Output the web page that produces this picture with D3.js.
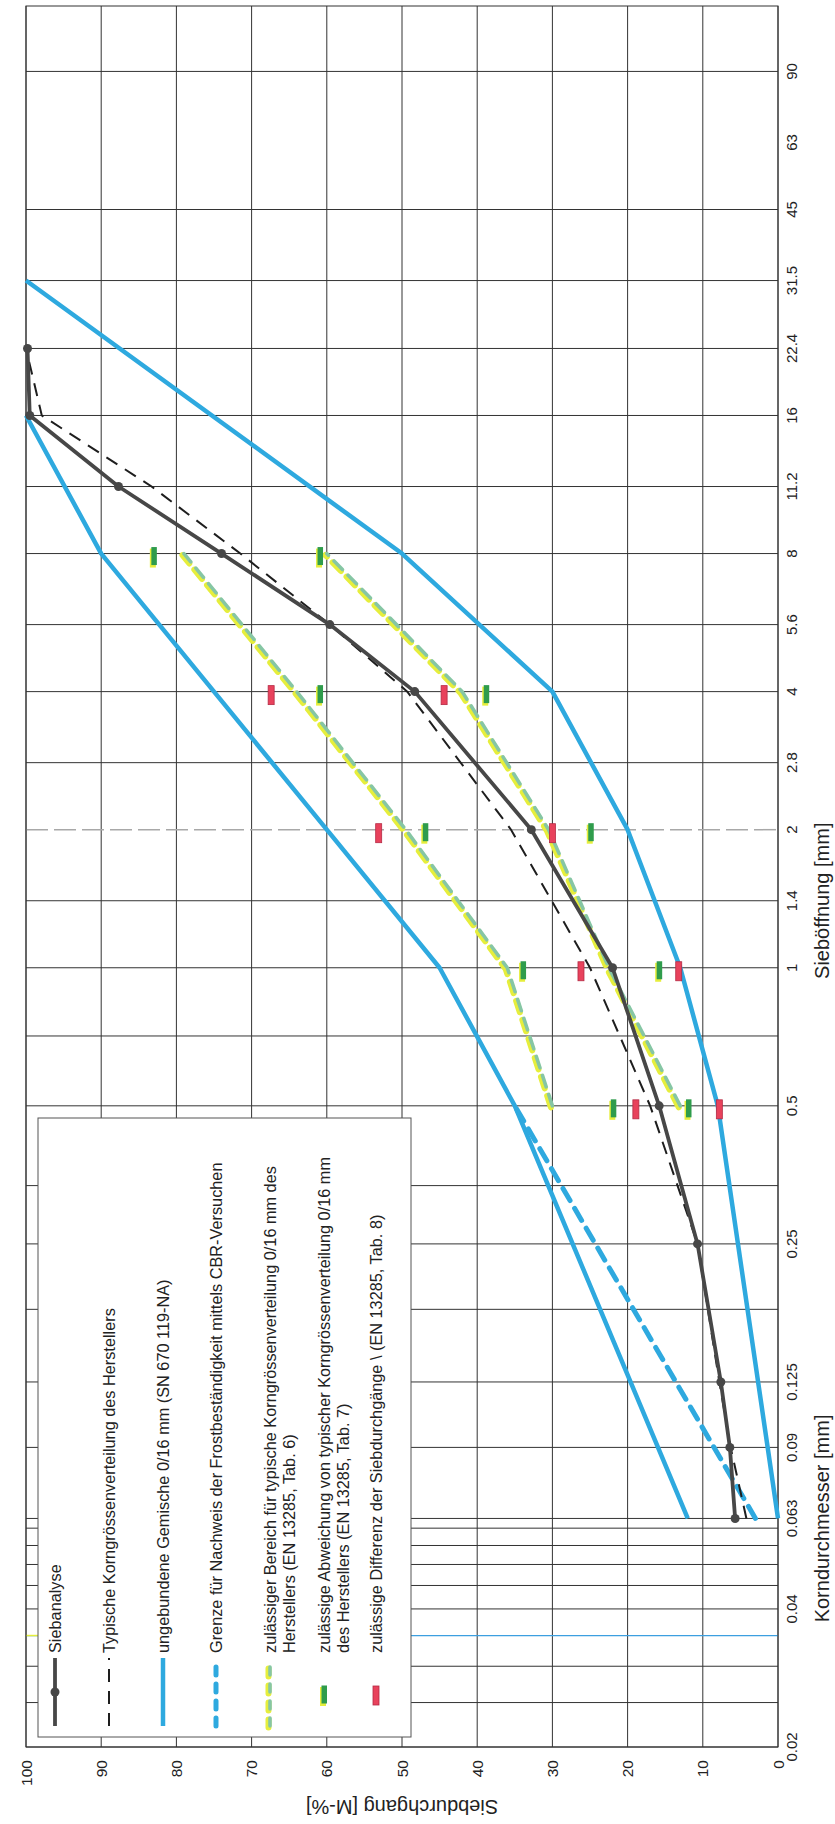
<!DOCTYPE html>
<html>
<head>
<meta charset="utf-8">
<script src="https://cdn.jsdelivr.net/npm/d3@7"></script>
<style>
  body { margin: 0; background: #fff; }
  svg { display: block; font-family: "Liberation Sans", Arial, sans-serif; }
</style>
</head>
<body>
<svg id="chart" width="835" height="1824"></svg>
<script>
// --- Data: [sieve size mm, passing %] ---
const siebanalyse = [[0.063, 5.7], [0.09, 6.4], [0.125, 7.6], [0.25, 10.7], [0.5, 15.8], [1, 22.0], [2, 32.8], [4, 48.3], [5.6, 59.6], [8, 74.0], [11.2, 87.7], [16, 99.5], [22.4, 99.8]];
const typisch = [[0.063, 4.2], [0.09, 6.3], [0.125, 7.8], [0.25, 10.7], [0.5, 17], [1, 25], [2, 35.5], [4, 49.3], [5.6, 59.6], [8, 71.5], [11.2, 83.3], [16, 97.9], [22.4, 100]];
const snUpper = [[0.063, 12], [0.5, 35], [1, 45], [2, 60], [4, 75], [8, 90], [16, 100]];
const snLower = [[0.063, 0], [0.5, 8], [1, 13], [2, 20], [4, 30], [8, 50], [31.5, 100]];
const frostLimit = [[0.063, 3], [0.5, 35]];
const tab6Upper = [[0.5, 30], [1, 36], [2, 49.5], [4, 64], [8, 79]];
const tab6Lower = [[0.5, 13], [1, 22.5], [2, 30.5], [4, 42], [8, 60]];
const tab7Marks = [[0.5, 21.9], [0.5, 11.9], [1, 33.9], [1, 15.8], [2, 46.9], [2, 24.9], [4, 60.9], [4, 38.8], [8, 83], [8, 60.9]];
const tab8Marks = [[0.5, 18.9], [0.5, 7.8], [1, 26.2], [1, 13.2], [2, 53.1], [2, 30.0], [4, 67.4], [4, 44.4]];

// --- Axes ---
const pctTicks = [0, 10, 20, 30, 40, 50, 60, 70, 80, 90, 100];
const sieveGrid = [0.02, 0.025, 0.03, 0.04, 0.045, 0.05, 0.055, 0.06, 0.063, 0.09, 0.125, 0.18, 0.25, 0.335, 0.5, 0.71, 1, 1.4, 2.8, 4, 5.6, 8, 11.2, 16, 22.4, 31.5, 45, 90];
const sieveLabels = ["0.02", "0.04", "0.063", "0.09", "0.125", "0.25", "0.5", "1", "1.4", "2", "2.8", "4", "5.6", "8", "11.2", "16", "22.4", "31.5", "45", "63", "90"];

const legendItems = [
	{ type: "sieb", lines: ["Siebanalyse"] },
	{ type: "typ", lines: ["Typische Korngrössenverteilung des Herstellers"] },
	{ type: "sn", lines: ["ungebundene Gemische 0/16 mm (SN 670 119-NA)"] },
	{ type: "frost", lines: ["Grenze für Nachweis der Frostbeständigkeit mittels CBR-Versuchen"] },
	{ type: "tab6", lines: ["zulässiger Bereich für typische Korngrössenverteilung 0/16 mm des", "Herstellers (EN 13285, Tab. 6)"] },
	{ type: "tab7", lines: ["zulässige Abweichung von typischer Korngrössenverteilung 0/16 mm", "des Herstellers (EN 13285, Tab. 7)"] },
	{ type: "tab8", lines: ["zulässige Differenz der Siebdurchgänge \\ (EN 13285, Tab. 8)"] },
];

const BLUE = "#2ea9df";
const DARK = "#474747";
const YELLOW = "#e6ee3c";
const TEAL = "#86c6a4";
const GREEN = "#2f9c4c";
const RED = "#e8425c";
const GRID = "#333";

const svg = d3.select("#chart");

// passing % runs right-to-left, sieve size bottom-to-top (chart is turned by 90°)
const x = d3.scaleLinear().domain([0, 100]).range([778, 26]);
const y = d3.scaleLog().domain([0.02, 125]).range([1747, 6]);

const line = d3.line().x((d) => x(d[1])).y((d) => y(d[0]));

// -------------------------
// Grid
// -------------------------
const grid = svg.append("g").attr("stroke", GRID).attr("stroke-width", 1);

grid.selectAll(".v")
	.data(pctTicks)
	.enter()
	.append("line")
	.attr("x1", (d) => x(d)).attr("x2", (d) => x(d))
	.attr("y1", y(125)).attr("y2", y(0.02));

grid.selectAll(".h")
	.data(sieveGrid)
	.enter()
	.append("line")
	.attr("x1", x(100)).attr("x2", x(0))
	.attr("y1", (d) => y(d)).attr("y2", (d) => y(d));

// 2 mm line is a faint dashed line in the original
svg.append("line")
	.attr("x1", x(100)).attr("x2", x(0))
	.attr("y1", y(2)).attr("y2", y(2))
	.attr("stroke", "#a8a8a8").attr("stroke-width", 1.5)
	.attr("stroke-dasharray", "22,6");

// thin blue line at 0.035 mm
svg.append("line")
	.attr("x1", x(100)).attr("x2", x(0))
	.attr("y1", y(0.035)).attr("y2", y(0.035))
	.attr("stroke", "#3c9fe0").attr("stroke-width", 1.3);
svg.append("line")
	.attr("x1", x(100)).attr("x2", x(98))
	.attr("y1", y(0.035)).attr("y2", y(0.035))
	.attr("stroke", YELLOW).attr("stroke-width", 1.5);

svg.append("rect")
	.attr("x", x(100)).attr("y", y(125))
	.attr("width", x(0) - x(100)).attr("height", y(0.02) - y(125))
	.attr("fill", "none").attr("stroke", GRID).attr("stroke-width", 1);

// -------------------------
// Curves
// -------------------------
const curves = svg.append("g").attr("fill", "none");

[snUpper, snLower].forEach((s) => {
	curves.append("path").attr("d", line(s))
		.attr("stroke", BLUE).attr("stroke-width", 4.5).attr("stroke-linejoin", "round");
});

curves.append("path").attr("d", line(frostLimit))
	.attr("stroke", BLUE).attr("stroke-width", 5)
	.attr("stroke-dasharray", "14,9").attr("stroke-linecap", "round");

[tab6Upper, tab6Lower].forEach((s) => {
	curves.append("path").attr("d", line(s))
		.attr("transform", "translate(-1.5,1.5)")
		.attr("stroke", YELLOW).attr("stroke-width", 6)
		.attr("stroke-dasharray", "12,8").attr("stroke-linecap", "round");
	curves.append("path").attr("d", line(s))
		.attr("stroke", TEAL).attr("stroke-width", 3.6)
		.attr("stroke-dasharray", "12,8").attr("stroke-linecap", "round");
});

curves.append("path").attr("d", line(typisch))
	.attr("stroke", "#1e1e1e").attr("stroke-width", 2)
	.attr("stroke-dasharray", "13,9");

curves.append("path").attr("d", line(siebanalyse))
	.attr("stroke", DARK).attr("stroke-width", 3.8).attr("stroke-linejoin", "round");

svg.append("g")
	.selectAll("circle")
	.data(siebanalyse)
	.enter()
	.append("circle")
	.attr("cx", (d) => x(d[1])).attr("cy", (d) => y(d[0]))
	.attr("r", 4.5).attr("fill", DARK);

// --- Tolerance marks ---
function drawMark(g, cx, cy, kind) {
	if (kind === "tab7") {
		g.append("rect").attr("x", cx - 4).attr("y", cy - 8).attr("width", 6).attr("height", 19)
			.attr("fill", YELLOW);
		g.append("rect").attr("x", cx - 2.5).attr("y", cy - 9.5).attr("width", 5.5).attr("height", 18)
			.attr("fill", GREEN);
	} else {
		g.append("rect").attr("x", cx - 3).attr("y", cy - 9).attr("width", 6).attr("height", 19)
			.attr("fill", RED).attr("stroke", "#b52a44").attr("stroke-width", 0.8);
	}
}

const marks = svg.append("g");
tab7Marks.forEach((d) => drawMark(marks, x(d[1]), y(d[0]) + 3, "tab7"));
tab8Marks.forEach((d) => drawMark(marks, x(d[1]), y(d[0]) + 3, "tab8"));

// -------------------------
// Tick labels & titles (rotated)
// -------------------------
svg.append("g")
	.selectAll("text")
	.data(sieveLabels)
	.enter()
	.append("text")
	.attr("transform", (d) => `translate(797,${y(+d)}) rotate(-90)`)
	.attr("text-anchor", "middle")
	.attr("font-size", 15)
	.attr("fill", "#222")
	.text((d) => d);

svg.append("g")
	.selectAll("text")
	.data(pctTicks)
	.enter()
	.append("text")
	.attr("transform", (d) => `translate(${x(d) + 5.5},1760) rotate(-90)`)
	.attr("text-anchor", "end")
	.attr("font-size", 15.5)
	.attr("fill", "#222")
	.text((d) => d);

svg.append("text")
	.attr("transform", `translate(${(x(0) + x(100)) / 2},1800) rotate(180)`)
	.attr("text-anchor", "middle")
	.attr("font-size", 20)
	.attr("fill", "#222")
	.text("Siebdurchgang [M-%]");

svg.append("text")
	.attr("transform", `translate(829,${y(1.4)}) rotate(-90)`)
	.attr("text-anchor", "middle")
	.attr("font-size", 20)
	.attr("fill", "#222")
	.text("Sieböffnung [mm]");

svg.append("text")
	.attr("transform", `translate(829,${y(0.063)}) rotate(-90)`)
	.attr("text-anchor", "middle")
	.attr("font-size", 20)
	.attr("fill", "#222")
	.text("Korndurchmesser [mm]");

// -------------------------
// Legend (rotated, entries run left to right)
// -------------------------
const lg = svg.append("g");
lg.append("rect")
	.attr("x", 38).attr("y", 1118).attr("width", 373).attr("height", 619)
	.attr("fill", "#fff").attr("stroke", "#555").attr("stroke-width", 1);

const entryX = [55, 109, 163, 216, 270, 324, 376];
const sampleTop = 1658;
const sampleBottom = 1726;

legendItems.forEach((item, i) => {
	const cx = entryX[i];
	const g = lg.append("g");
	const seg = (attrs) => {
		const l = g.append("line").attr("x1", cx).attr("x2", cx)
			.attr("y1", sampleBottom).attr("y2", sampleTop).attr("fill", "none");
		Object.entries(attrs).forEach(([k, v]) => l.attr(k, v));
		return l;
	};
	if (item.type === "sieb") {
		seg({ stroke: DARK, "stroke-width": 3.8 });
		g.append("circle").attr("cx", cx).attr("cy", 1692).attr("r", 4.5).attr("fill", DARK);
	} else if (item.type === "typ") {
		seg({ stroke: "#1e1e1e", "stroke-width": 2, "stroke-dasharray": "13,9" });
	} else if (item.type === "sn") {
		seg({ stroke: BLUE, "stroke-width": 4.5 });
	} else if (item.type === "frost") {
		seg({ stroke: BLUE, "stroke-width": 5, "stroke-dasharray": "8,9", "stroke-linecap": "round" });
	} else if (item.type === "tab6") {
		seg({ stroke: YELLOW, "stroke-width": 6, "stroke-dasharray": "8,9", "stroke-linecap": "round" })
			.attr("transform", "translate(-1.5,1.5)");
		seg({ stroke: TEAL, "stroke-width": 3.6, "stroke-dasharray": "8,9", "stroke-linecap": "round" });
	} else {
		drawMark(g, cx, 1695, item.type);
	}
	item.lines.forEach((t, j) => {
		g.append("text")
			.attr("transform", `translate(${cx + 6 + j * 19},1653) rotate(-90)`)
			.attr("font-size", 16.3)
			.attr("fill", "#222")
			.text(t);
	});
});
</script>
</body>
</html>
